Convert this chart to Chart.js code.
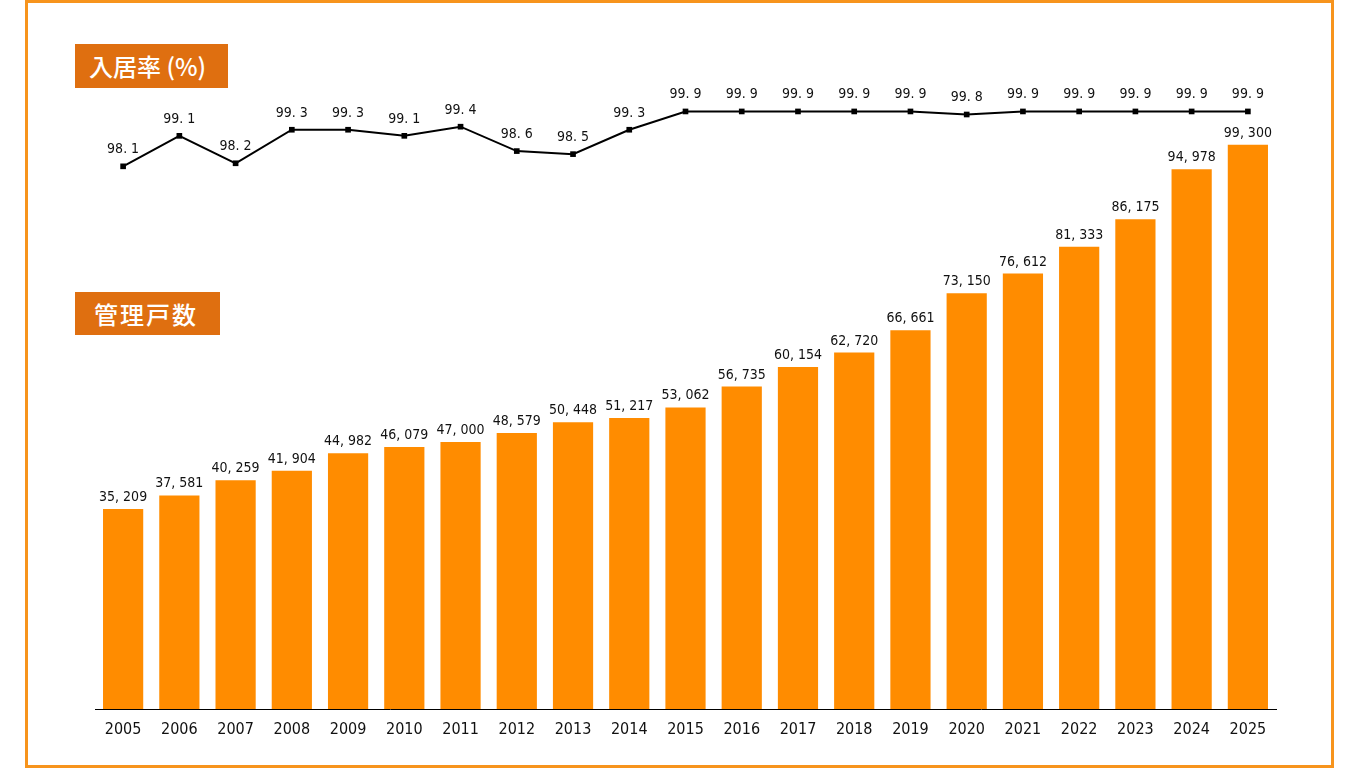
<!DOCTYPE html>
<html lang="ja">
<head>
<meta charset="utf-8">
<title>入居率・管理戸数</title>
<script src="https://cdn.jsdelivr.net/npm/chart.js@4/dist/chart.umd.min.js"></script>
<style>
  html, body { margin: 0; padding: 0; background: #fff; }
  body { width: 1366px; height: 768px; position: relative; overflow: hidden; }
  #frame {
    position: absolute; left: 25px; top: 0; width: 1303px; height: 762px;
    border: 3px solid #f7941d;
  }
  #wrap { position: absolute; left: 0; top: 0; width: 1366px; height: 768px; }
  .tag {
    position: absolute; background: #df6f10; color: #fff;
    font-family: "Noto Sans CJK JP", sans-serif; font-size: 24px; font-weight: 500;
    box-sizing: border-box; padding-left: 14px; line-height: 44px; height: 44px;
  }
  #tagRate { left: 75px; top: 44px; width: 153px; }
  #tagUnits { left: 75px; top: 292px; width: 145px; height: 43px; line-height: 43px; letter-spacing: 2px; padding-left: 19px; }
</style>
</head>
<body>
<div id="frame"></div>
<div id="wrap"><canvas id="chart" width="1366" height="768"></canvas></div>
<div class="tag" id="tagRate">入居率 (%)</div>
<div class="tag" id="tagUnits">管理戸数</div>
<script>
// data
const years = ['2005', '2006', '2007', '2008', '2009', '2010', '2011', '2012', '2013', '2014',
               '2015', '2016', '2017', '2018', '2019', '2020', '2021', '2022', '2023', '2024', '2025'];
const occupancy = [98.1, 99.1, 98.2, 99.3, 99.3, 99.1, 99.4, 98.6, 98.5, 99.3,
                   99.9, 99.9, 99.9, 99.9, 99.9, 99.8, 99.9, 99.9, 99.9, 99.9, 99.9];
const units = [35209, 37581, 40259, 41904, 44982, 46079, 47000, 48579, 50448, 51217,
               53062, 56735, 60154, 62720, 66661, 73150, 76612, 81333, 86175, 94978, 99300];

const numFont = '"DejaVu Sans Condensed", "Liberation Sans Narrow", Arial, sans-serif';

function fmtUnits(v) {
    return v.toLocaleString('en-US').replace(/,/g, ', ');
}
function fmtRate(v) {
    return v.toFixed(1).replace('.', '. ');
}

// draw value labels above bars and points
const valueLabels = {
    id: 'valueLabels',
    afterDatasetsDraw(chart) {
        const ctx = chart.ctx;
        ctx.save();
        ctx.fillStyle = '#111';
        ctx.textAlign = 'center';
        ctx.textBaseline = 'alphabetic';
        ctx.font = '14px ' + numFont;
        chart.getDatasetMeta(1).data.forEach((bar, i) => {
            ctx.fillText(fmtUnits(units[i]), bar.x, bar.y - 8);
        });
        chart.getDatasetMeta(0).data.forEach((pt, i) => {
            ctx.fillText(fmtRate(occupancy[i]), pt.x, pt.y - 13);
        });
        ctx.restore();
    }
};

const ctx = document.getElementById('chart').getContext('2d');
new Chart(ctx, {
    data: {
        labels: years,
        datasets: [
            {
                type: 'line',
                label: '入居率',
                data: occupancy,
                yAxisID: 'yRate',
                borderColor: '#000',
                borderWidth: 2,
                pointStyle: 'rect',
                pointRadius: 4,
                pointBackgroundColor: '#000',
                pointBorderWidth: 0,
                tension: 0,
                order: 0
            },
            {
                type: 'bar',
                label: '管理戸数',
                data: units,
                yAxisID: 'yUnits',
                backgroundColor: '#ff8c00',
                categoryPercentage: 1,
                barPercentage: 0.715,
                order: 1
            }
        ]
    },
    options: {
        responsive: false,
        animation: false,
        layout: { padding: { left: 95, right: 90, top: 27, bottom: 0 } },
        plugins: {
            legend: { display: false },
            tooltip: { enabled: false }
        },
        scales: {
            x: {
                grid: { display: false },
                border: { display: true, color: '#000', width: 1 },
                ticks: { color: '#111', font: { family: numFont, size: 16 }, padding: 3 },
                afterFit(scale) { scale.height = 59; }
            },
            yUnits: { display: false, min: 0, max: 120000 },
            yRate: { display: false, min: 80.3, max: 102.67 }
        }
    },
    plugins: [valueLabels]
});
</script>
</body>
</html>
